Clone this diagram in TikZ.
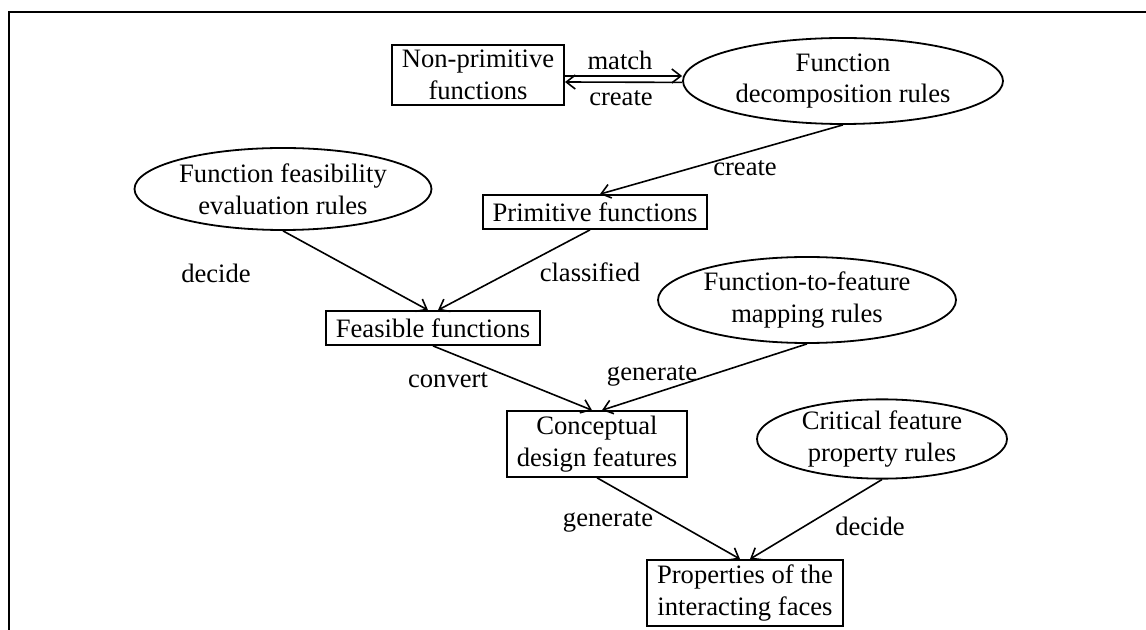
\documentclass[tikz,border=0pt]{standalone}
\usepackage{fontspec}
\setmainfont{Liberation Serif}
\usetikzlibrary{shapes.geometric, arrows.meta}
\newcommand{\diagfont}{\fontsize{13.3}{15.8}\selectfont}
\tikzstyle{funcbox}=[draw, line width=0.9pt, inner xsep=5pt, inner ysep=2.5pt, align=center]
\tikzstyle{rulebox}=[draw, ellipse, line width=0.9pt, inner sep=0pt, align=center]
\tikzstyle{flow}=[->, line width=0.8pt]

\begin{document}
\begin{tikzpicture}[x=0.5pt, y=-0.5pt, >={Straight Barb[length=4.5pt,width=7pt]},
	every node/.style={font=\diagfont}]
	\useasboundingbox (0,0) rectangle (1146,630);
	\draw[line width=1.2pt] (9,630) -- (9,12) -- (1146,12);

	% functions and rule sets
	\node[funcbox] (nonprim) at (478,75) {Non-primitive\\functions};
	\node[rulebox, minimum width=160pt, minimum height=43pt] (decomp) at (843,81) {Function\\decomposition rules};
	\node[rulebox, minimum width=148.5pt, minimum height=41pt] (feasrules) at (283,189) {Function feasibility\\evaluation rules};
	\node[funcbox, minimum height=17pt] (prim) at (595,212) {Primitive functions};
	\node[funcbox, minimum height=17pt] (feas) at (433,328) {Feasible functions};
	\node[rulebox, minimum width=149pt, minimum height=43pt] (maprules) at (807,300) {Function-to-feature\\mapping rules};
	\node[funcbox] (concept) at (597,444) {Conceptual\\design features};
	\node[rulebox, minimum width=125pt, minimum height=36pt] (critrules) at (882,439) {Critical feature\\property rules};
	\node[funcbox] (props) at (745,593) {Properties of the\\interacting faces};

	% links
	\draw[flow] ([yshift=-0.5pt]nonprim.east) -- ([yshift=2.5pt]decomp.west);
	\draw[flow] ([yshift=-0.7pt]decomp.west) -- ([yshift=-3.5pt]nonprim.east);
	\draw[flow] (decomp.south) -- ([xshift=2.5pt]prim.north);
	\draw[flow] (feasrules.south) -- ([xshift=-2.5pt]feas.north);
	\draw[flow] ([xshift=-2.5pt]prim.south) -- ([xshift=2.5pt]feas.north);
	\draw[flow] (feas.south) -- ([xshift=-2.5pt]concept.north);
	\draw[flow] (maprules.south) -- ([xshift=2.5pt]concept.north);
	\draw[flow] (concept.south) -- ([xshift=-2.5pt]props.north);
	\draw[flow] (critrules.south) -- ([xshift=2.5pt]props.north);

	% link labels
	\node (lmatch) at (620,60) {match};
	\node (lcreatea) at (621,98) {create};
	\node (lcreateb) at (745,168) {create};
	\node (ldecidea) at (216,273) {decide};
	\node (lclass) at (590,272) {classified};
	\node (lconvert) at (448,380) {convert};
	\node (lgeneratea) at (652,376) {generate};
	\node (lgenerateb) at (608,522) {generate};
	\node (ldecideb) at (870,526) {decide};
\end{tikzpicture}
\end{document}
